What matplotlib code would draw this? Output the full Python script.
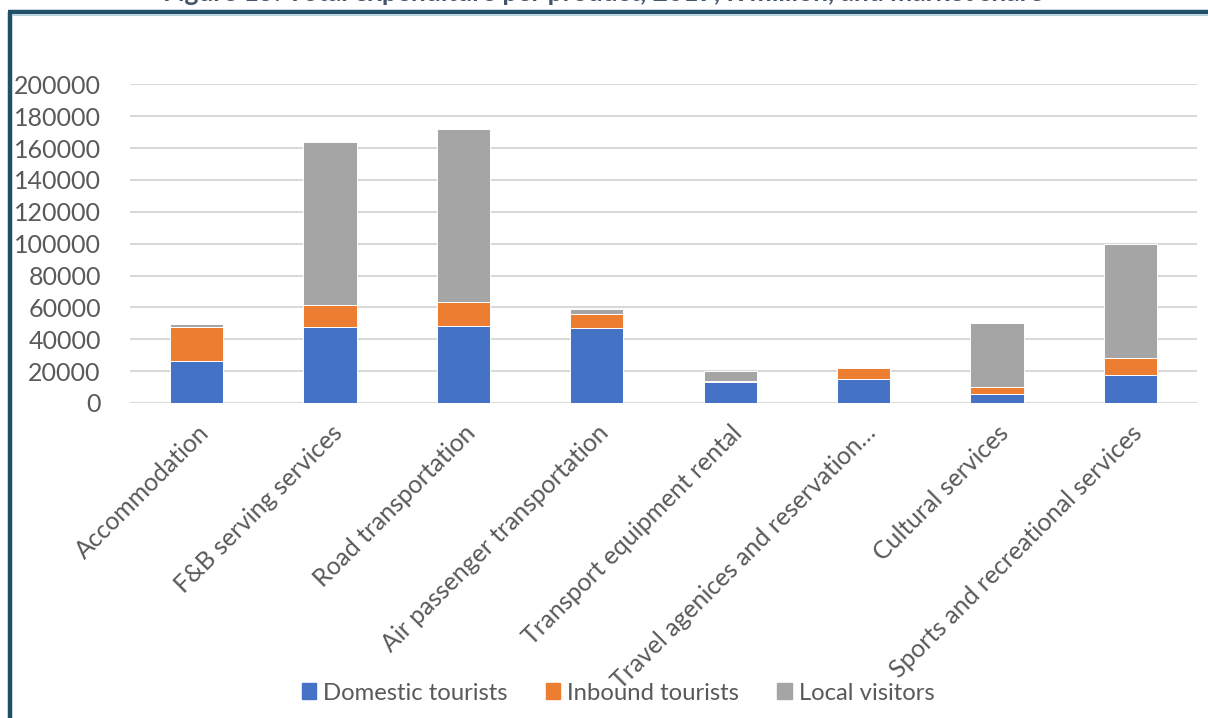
import matplotlib.pyplot as plt
import numpy as np
from matplotlib.lines import Line2D
from matplotlib.patches import Patch

plt.rcParams['font.family'] = ['Lato', 'DejaVu Sans']

categories = [
    "Accommodation",
    "F&B serving services",
    "Road transportation",
    "Air passenger transportation",
    "Transport equipment rental",
    "Travel agenices and reservation\u2026",
    "Cultural services",
    "Sports and recreational services",
]
domestic = [26400, 47800, 48200, 47000, 13400, 15300, 5900, 17600]
inbound = [21000, 13800, 15300, 9000, 400, 6500, 4200, 10700]
local = [1900, 102400, 108200, 2900, 6500, 600, 40400, 71300]
yticks = [0, 20000, 40000, 60000, 80000, 100000, 120000, 140000, 160000, 180000, 200000]

series = [("Domestic tourists", domestic, "#4472C4"),
          ("Inbound tourists", inbound, "#ED7D31"),
          ("Local visitors", local, "#A5A5A5")]

W, H = 1208, 718
fig = plt.figure(figsize=(W / 100, H / 100), dpi=100)
ax = fig.add_axes([130 / W, 1 - 403 / H, (1197 - 130) / W, (403 - 84.3) / H])

x = np.arange(len(categories))
bottom = np.zeros(len(categories))
for name, vals, col in series:
    ax.bar(x, vals, 0.4, bottom=bottom, color=col, edgecolor="white",
           linewidth=0.7, label=name, zorder=3)
    bottom += np.array(vals)

ax.set_xlim(-0.5, len(categories) - 0.5)
ax.set_ylim(0, 200000)
ax.set_yticks(yticks)
ax.set_yticklabels([str(v) for v in yticks])
ax.grid(axis="y", color="#D9D9D9", linewidth=1.5, zorder=0)
for s in ax.spines.values():
    s.set_visible(False)
ax.tick_params(axis="y", length=0, pad=21, labelsize=18, labelcolor="#595959")
ax.tick_params(axis="x", length=0, pad=13, labelsize=17.8, labelcolor="#595959")
ax.set_xticks(x)
ax.set_xticklabels(categories, rotation=45, ha="right", va="top",
                   rotation_mode="anchor")

handles = [Patch(color=c, label=n) for n, _, c in series]
fig.legend(handles=handles, loc="center", bbox_to_anchor=(618 / W, 1 - 693 / H),
           ncol=3, frameon=False, fontsize=17.2, labelcolor="#595959",
           handlelength=0.6, handleheight=0.6, handletextpad=0.3,
           columnspacing=1.6)

# frame around the figure
fig.add_artist(Line2D([10 / W, 10 / W], [0, 1 - 12 / H], color="#1F5068",
                      linewidth=3.2, solid_capstyle="butt"))
fig.add_artist(Line2D([8 / W, 1], [1 - 12 / H, 1 - 12 / H], color="#1F5068",
                      linewidth=3.2, solid_capstyle="butt"))
fig.add_artist(Line2D([12 / W, 1], [1 - 14.5 / H, 1 - 14.5 / H], color="#B4CEDD",
                      linewidth=0.8))

fig.text(603 / W, 1 - 1 / H,
         "Figure 15: Total expenditure per product, 2019, R million, and market share",
         ha="center", va="baseline", fontsize=19, fontweight="bold", color="#44546A")

fig.savefig("out.png", dpi=100)
